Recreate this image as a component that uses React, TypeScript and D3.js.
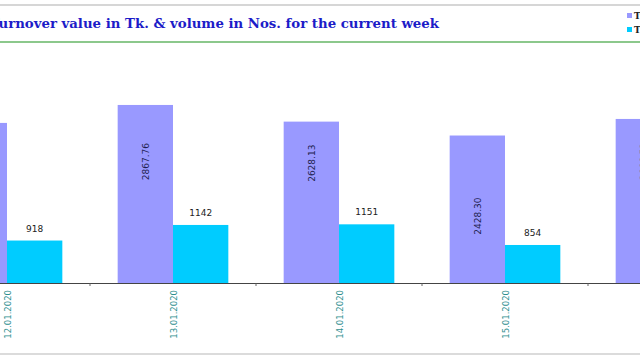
import React from "react";
import * as d3 from "d3";

const categories = ["12.01.2020", "13.01.2020", "14.01.2020", "15.01.2020", "16.01.2020"];
const turnover = [2609.45, 2867.76, 2628.13, 2428.3, 2666.52];
const turnoverLabels = ["2609.45", "2867.76", "2628.13", "2428.30", "2666.52"];
const volume = [918, 1142, 1151, 854, 1050];
const seriesNames = ["Turnover value in Tk. (mn)", "Trade volume (Nos.)"];
const yDomain = [300, 3500];
const title = "Turnover value in Tk. & volume in Nos. for the current week";

// layout (not data)
const W = 640;
const H = 360;
const purpleLabelOffset = [30, 38, 23, 62, 24];

export default function App() {
  const x = d3.scaleBand<string>().domain(categories).range([-76, 754]).padding(0);
  const inner = d3
    .scaleBand<string>()
    .domain(["t", "v"])
    .range([0, x.bandwidth()])
    .paddingInner(0)
    .paddingOuter(0.5);
  const y = d3.scaleLinear().domain(yDomain).range([283.5, 61]);
  const baseY = y(yDomain[0]);
  const purple = "#9999FF";
  const cyan = "#00CCFF";

  return (
    <svg
      width={W}
      height={H}
      style={{ position: "absolute", left: 0, top: 0, background: "#fff" }}
      xmlns="http://www.w3.org/2000/svg"
    >
      <rect x={0} y={0} width={W} height={H} fill="#fff" />
      {/* header lines */}
      <line x1={0} x2={W} y1={5} y2={5} stroke="#c8c8c8" strokeWidth={1.5} />
      <line x1={0} x2={W} y1={42} y2={42} stroke="#8cc88c" strokeWidth={2} />
      <line x1={0} x2={W} y1={354} y2={354} stroke="#cfcfcf" strokeWidth={1.5} />
      <text
        x={439}
        y={27.5}
        textAnchor="end"
        fontFamily="'DejaVu Serif', serif"
        fontWeight="bold"
        fontSize={13.3}
        fill="#1c1cc8"
      >
        {title}
      </text>
      {/* legend */}
      {seriesNames.map((n, i) => (
        <g key={n}>
          <rect x={627} y={13 + i * 14} width={5} height={5} fill={i === 0 ? purple : cyan} />
          <text
            x={634}
            y={19 + i * 14}
            fontFamily="'DejaVu Serif', serif"
            fontWeight="bold"
            fontSize={9}
            fill="#222"
          >
            {n}
          </text>
        </g>
      ))}
      {/* bars */}
      {categories.map((c, i) => {
        const x0 = x(c)!;
        const tx = x0 + inner("t")!;
        const vx = x0 + inner("v")!;
        const bw = inner.bandwidth();
        const ty = y(turnover[i]);
        const vy = y(volume[i]);
        return (
          <g key={c}>
            <rect x={tx} y={ty} width={bw} height={baseY - ty} fill={purple} />
            <rect x={vx} y={vy} width={bw} height={baseY - vy} fill={cyan} />
            <text
              transform={`translate(${tx + bw / 2 + 3.5},${ty + purpleLabelOffset[i]}) rotate(-90)`}
              textAnchor="end"
              fontFamily="'DejaVu Sans', sans-serif"
              fontSize={9}
              fill="#1e1e50"
            >
              {turnoverLabels[i]}
            </text>
            <text
              x={vx + bw / 2}
              y={vy - 9}
              textAnchor="middle"
              fontFamily="'DejaVu Sans', sans-serif"
              fontSize={9}
              fill="#222"
            >
              {volume[i]}
            </text>
            <text
              transform={`translate(${x0 + x.bandwidth() / 2 + 3.5},290) rotate(-90)`}
              textAnchor="end"
              fontFamily="'DejaVu Sans', sans-serif"
              fontSize={8.5}
              fill="#2f8f8f"
            >
              {c}
            </text>
          </g>
        );
      })}
      {/* axis */}
      <line x1={0} x2={W} y1={283.5} y2={283.5} stroke="#444" strokeWidth={1.2} />
      {categories.map((c) => (
        <line
          key={"t" + c}
          x1={x(c)!}
          x2={x(c)!}
          y1={283.5}
          y2={286}
          stroke="#666"
          strokeWidth={1}
        />
      ))}
    </svg>
  );
}
